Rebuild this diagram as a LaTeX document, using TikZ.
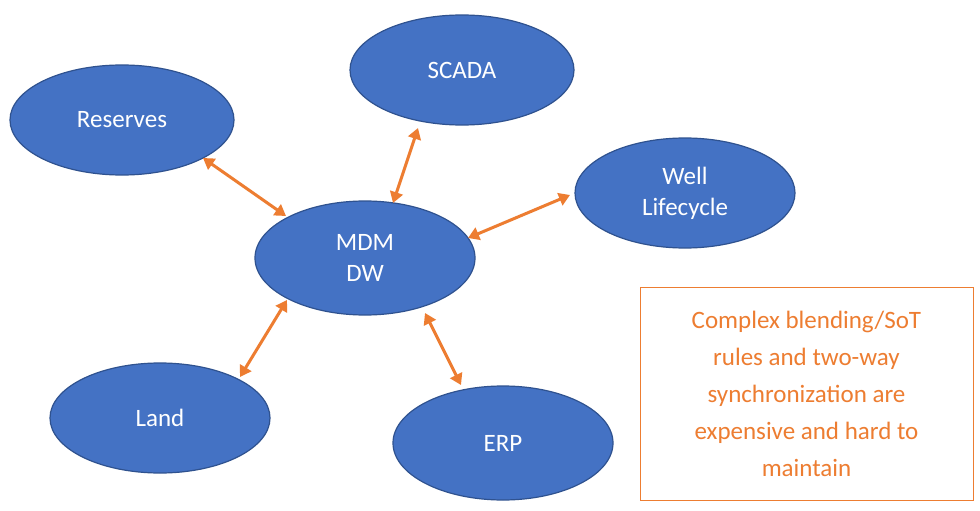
\documentclass[tikz,border=0pt]{standalone}
\usepackage{fontspec}
\setmainfont{Carlito}
\usetikzlibrary{shapes.geometric,arrows.meta}
\definecolor{bl}{HTML}{4472C4}
\definecolor{bd}{HTML}{2F528F}
\definecolor{og}{HTML}{ED7D31}
\begin{document}
\begin{tikzpicture}[x=1pt,y=-1pt,
  el/.style={ellipse,fill=bl,draw=bd,line width=1.2pt,inner sep=0pt,text=white,font=\fontsize{25}{31}\selectfont,align=center},
  ar/.style={draw=og,line width=3pt,{Triangle[length=11pt,width=13pt]}-{Triangle[length=11pt,width=13pt]}}]
\useasboundingbox[fill=white] (0,0) rectangle (980,511);
\node[el,minimum width=224,minimum height=110] (res) at (122,120) {Reserves};
\node[el,minimum width=224,minimum height=110] (sca) at (462,70) {SCADA};
\node[el,minimum width=220,minimum height=110] (wel) at (685,193) {Well\\Lifecycle};
\node[el,minimum width=220,minimum height=114] (mdm) at (365,258) {MDM\\DW};
\node[el,minimum width=220,minimum height=110] (lan) at (160,418) {Land};
\node[el,minimum width=220,minimum height=114] (erp) at (503,443) {ERP};
\node[draw=og,line width=1pt,text=og,align=center,minimum width=333,minimum height=213,font=\fontsize{25}{37}\selectfont] (box) at (806.5,393.5) {Complex blending/SoT\\rules and two-way\\synchronization are\\expensive and hard to\\maintain};
\coordinate (a1) at (203,158); \coordinate (a2) at (286,216);
\coordinate (b1) at (418,128); \coordinate (b2) at (393,203);
\coordinate (c1) at (570,195); \coordinate (c2) at (468,238);
\coordinate (d1) at (287,300); \coordinate (d2) at (240,377);
\coordinate (e1) at (425,313); \coordinate (e2) at (461,385);
\draw[ar] (a1) -- (a2);
\draw[ar] (b1) -- (b2);
\draw[ar] (c1) -- (c2);
\draw[ar] (d1) -- (d2);
\draw[ar] (e1) -- (e2);
\end{tikzpicture}
\end{document}
